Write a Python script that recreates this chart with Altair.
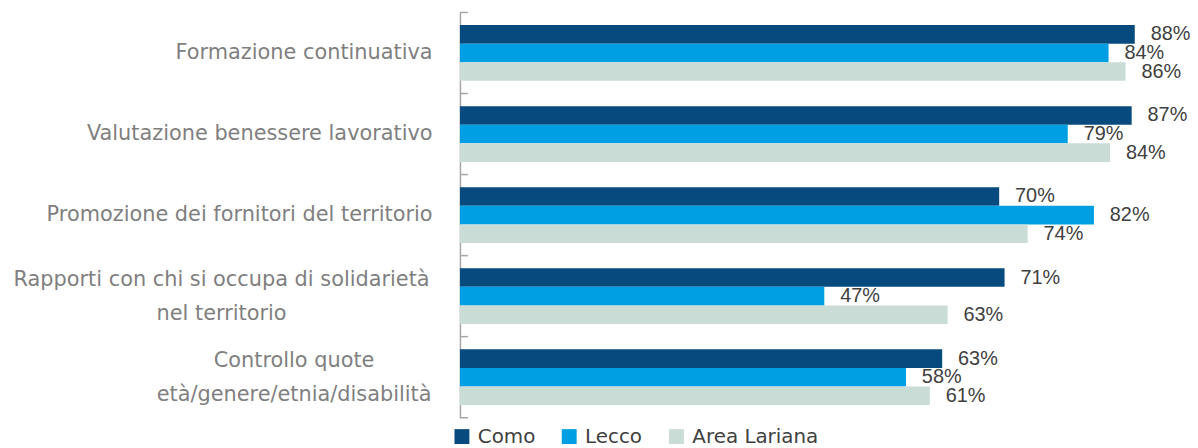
import altair as alt
import pandas as pd

categories = [
    "Formazione continuativa",
    "Valutazione benessere lavorativo",
    "Promozione dei fornitori del territorio",
    "Rapporti con chi si occupa di solidarietà|nel territorio",
    "Controllo quote|età/genere/etnia/disabilità",
]
series = ["Como", "Lecco", "Area Lariana"]
como = [87.6, 87.2, 70.0, 70.7, 62.6]
lecco = [84.2, 78.9, 82.3, 47.3, 57.9]
area = [86.4, 84.4, 73.7, 63.3, 61.0]
colors = ["#064A7E", "#009FE3", "#C9DCD6"]
axis_gray = "#A6A6A6"

rows = []
for s, vals in zip(series, [como, lecco, area]):
    for c, v in zip(categories, vals):
        rows.append({"cat": c, "series": s, "value": v})
df = pd.DataFrame(rows)
cat_df = pd.DataFrame({"cat": categories})

y_enc = alt.Y(
    "cat:N",
    sort=categories,
    scale=alt.Scale(paddingInner=0, paddingOuter=0),
    axis=alt.Axis(
        title=None,
        labelExpr="indexof(datum.label, '|') >= 0 ? '' : datum.label",
        ticks=False,
        tickSize=0,
        labelPadding=28,
        labelFontSize=21,
        labelFont="DejaVu Sans",
        labelColor="#7F7F7F",
        labelLimit=0,
        domainColor=axis_gray,
        domainWidth=1.5,
    ),
)

base = alt.Chart(df).transform_calculate(
    label="format(datum.value, '.0f') + '%'"
).encode(
    y=y_enc,
    yOffset=alt.YOffset("series:N", sort=series, scale=alt.Scale(paddingInner=0, paddingOuter=0.68)),
    x=alt.X("value:Q", scale=alt.Scale(domain=[0, 90]), axis=None),
)

bars = base.mark_bar().encode(
    color=alt.Color(
        "series:N",
        sort=series,
        scale=alt.Scale(domain=series, range=colors),
        legend=alt.Legend(
            title=None,
            orient="none",
            legendX=-8,
            legendY=417,
            direction="horizontal",
            symbolType="square",
            symbolSize=225,
            symbolStrokeWidth=0,
            labelFontSize=20,
            labelFont="DejaVu Sans",
            labelColor="#404040",
            columnPadding=24,
            labelOffset=6,
        ),
    )
)

text = base.mark_text(
    align="left", baseline="middle", dx=16, fontSize=20, font="Liberation Sans", color="#404040"
).encode(text="label:N")

# inward axis ticks at category boundaries
ticks_top = (
    alt.Chart(cat_df)
    .mark_rule(color=axis_gray, strokeWidth=1.5)
    .encode(y=alt.Y("cat:N", sort=categories, bandPosition=0), x=alt.value(0), x2=alt.value(8))
)
ticks_bottom = (
    alt.Chart(cat_df)
    .transform_filter(alt.datum.cat == categories[-1])
    .mark_rule(color=axis_gray, strokeWidth=1.5)
    .encode(y=alt.Y("cat:N", sort=categories, bandPosition=1), x=alt.value(0), x2=alt.value(8))
)


def multi_label(cat, xpos):
    return (
        alt.Chart(cat_df)
        .transform_filter(alt.datum.cat == cat)
        .mark_text(
            align="center",
            baseline="middle",
            lineBreak="|",
            lineHeight=34,
            dy=-16,
            fontSize=21,
            font="DejaVu Sans",
            color="#7F7F7F",
        )
        .encode(y=alt.Y("cat:N", sort=categories), x=alt.value(xpos), text="cat:N")
    )


lab_rapp = multi_label(categories[3], -240)
lab_ctrl = multi_label(categories[4], -167)

chart = (
    alt.layer(bars, text, ticks_top, ticks_bottom, lab_rapp, lab_ctrl)
    .properties(
        width=698,
        height=408,
        autosize=alt.AutoSizeParams(type="none"),
        padding={"left": 455, "top": 3, "right": 37, "bottom": 29},
    )
    .configure_view(strokeWidth=0)
)

chart.save("out.html", embed_options={"renderer": "svg", "actions": False})
